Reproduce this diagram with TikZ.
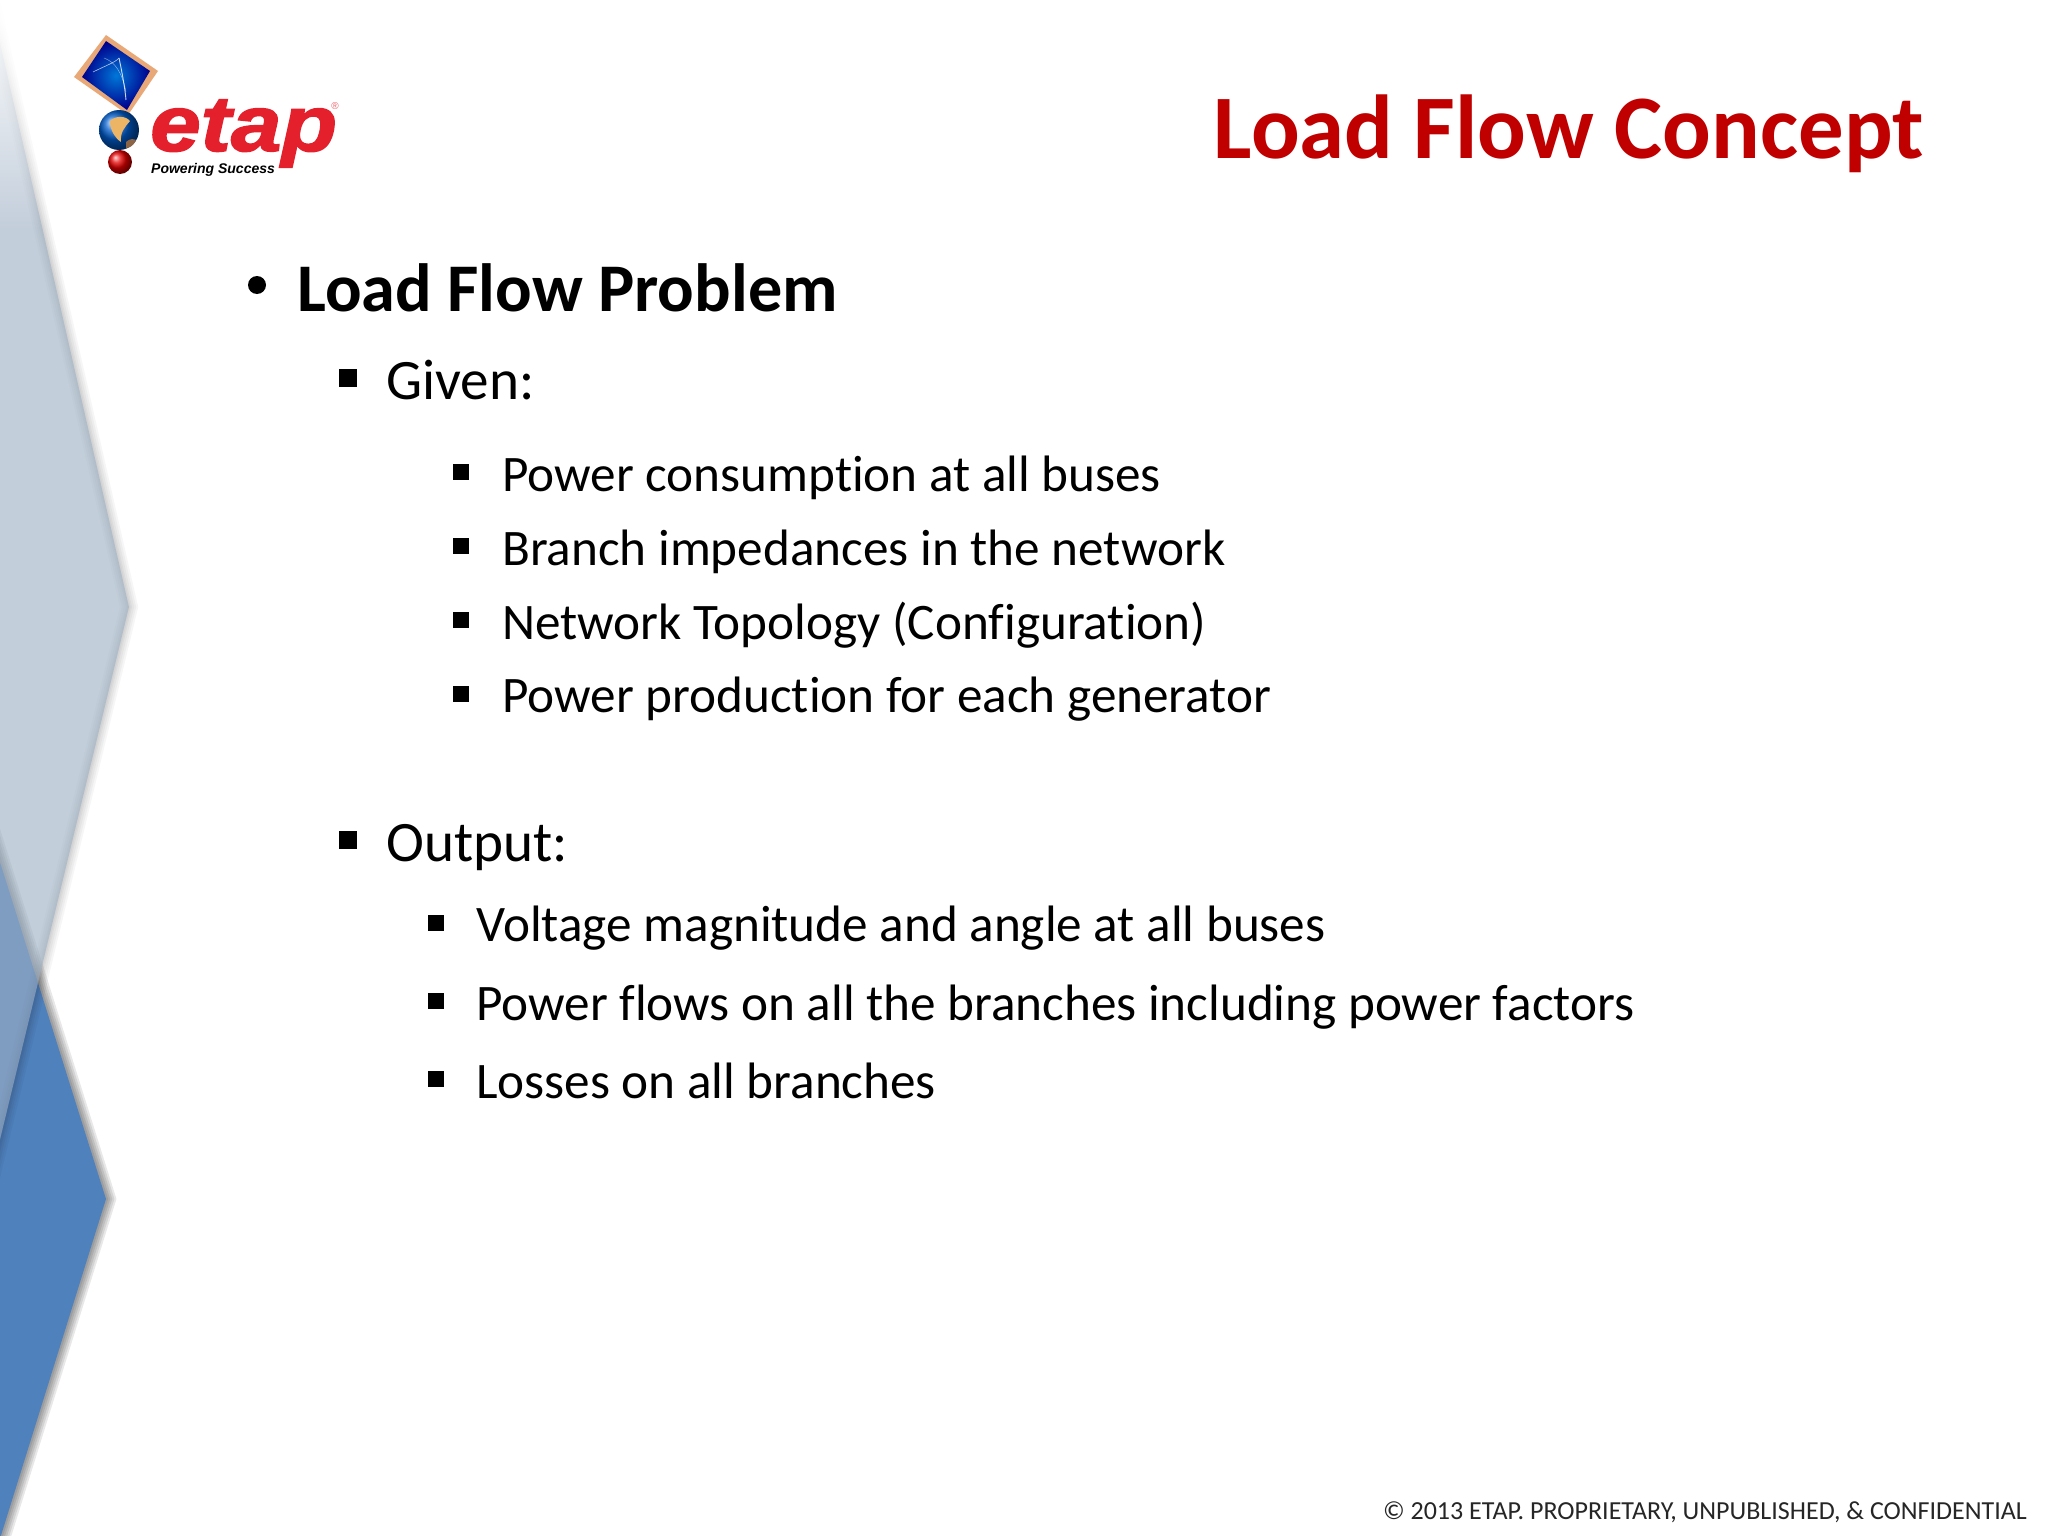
\documentclass[tikz,border=0pt]{standalone}
\usepackage{fontspec}
\setmainfont{Carlito}[Ligatures=NoCommon]
\newfontfamily\logofont{Liberation Sans}
\newfontfamily\brandfont{Liberation Sans}[BoldItalicFeatures={FakeBold=1.8}]
\usetikzlibrary{fadings}
\definecolor{slideRed}{HTML}{C00000}
\definecolor{paneLight}{HTML}{9EB0C5}
\definecolor{paneBlue}{HTML}{4F81BD}
\definecolor{logoRed}{HTML}{E4202C}
\definecolor{frameTan}{HTML}{E9A877}
\tikzset{
  txt/.style={inner sep=0pt,anchor=base west,text=black},
  mainitem/.style={txt,font=\fontsize{68.2}{80}\selectfont\bfseries},
  subitem/.style={txt,font=\fontsize{57.2}{66}\selectfont},
  leafitem/.style={txt,font=\fontsize{51.2}{60}\selectfont},
  squarebig/.style={fill=black,inner sep=0pt,minimum size=18pt},
  squaresmall/.style={fill=black,inner sep=0pt,minimum size=16pt},
  roundbullet/.style={fill=black,circle,inner sep=0pt,minimum size=18pt},
  softedge/.style={black,line join=miter}
}
\begin{document}
\begin{tikzpicture}[x=1pt,y=-1pt]
\useasboundingbox (0,0) rectangle (2048,1536);
\fill[white] (0,0) rectangle (2048,1536);
\coordinate (lightTop) at (-50,-176);
\coordinate (lightTip) at (129,607);
\coordinate (lightEnd) at (-50,1346);
\coordinate (blueTop) at (-50,703);
\coordinate (blueTip) at (106,1199);
\coordinate (blueEnd) at (-50,1699);
\begin{scope}
\clip (0,0) rectangle (2048,1536);
\begin{scope}[xshift=4pt,yshift=-1pt]
\foreach \w in {20,16,12,8,4}
  \draw[softedge,opacity=.09,line width=\w pt] (blueTop) -- (blueTip) -- (blueEnd);
\end{scope}
\fill[paneBlue] (blueTop) -- (blueTip) -- (blueEnd) -- cycle;
\begin{scope}[xshift=1pt]
\foreach \w in {18,14,10,6,3}
  \draw[softedge,opacity=.035,line width=\w pt] (lightTop) -- (lightTip) -- (lightEnd);
\end{scope}
\fill[paneLight,opacity=.61] (lightTop) -- (lightTip) -- (lightEnd) -- cycle;
\fill[white,path fading=south] (0,0) rectangle (70,230);
\end{scope}
\fill[frameTan] (106,35) -- (158,71) -- (128,115) -- (74,77) -- cycle;
\shade[inner color=blue!45!cyan!85!black,outer color=blue!55!black] (106,41) -- (150,71) -- (127,110) -- (82,77) -- cycle;
\draw[white,opacity=.7,line width=.6pt] (93,72) .. controls (105,66) and (116,62) .. (119,58);
\draw[white,opacity=.8,line width=.9pt] (119,58) .. controls (122,72) and (125,88) .. (126,100);
\draw[white,opacity=.5,line width=.5pt] (104,58) .. controls (115,62) and (122,72) .. (126,92);
\shade[ball color=blue!55!cyan!80!black] (119,130) circle (20);
\fill[frameTan!85!yellow] (110,121) .. controls (116,115) and (126,116) .. (130,121) .. controls (125,127) and (120,132) .. (121,142) .. controls (115,138) and (110,130) .. cycle;
\fill[frameTan!60!black] (126,142) .. controls (130,138) and (134,139) .. (136,140) .. controls (134,145) and (130,148) .. (126,148) -- cycle;
\shade[ball color=red!90!black] (120,162) circle (12);
\node[inner sep=0pt,anchor=base west,text=logoRed,xscale=1.15,font=\fontsize{79}{79}\brandfont\bfseries\itshape] (logoName) at (150,151) {etap};
\node[inner sep=0pt,anchor=base west,text=black,font=\fontsize{14}{16}\logofont\bfseries\itshape] (logoTag) at (151,173) {Powering Success};
\node[inner sep=0pt,text=logoRed!70,font=\fontsize{10}{10}\logofont] (logoMark) at (335,106) {®};
\node[inner sep=0pt,anchor=base east,text=slideRed,font=\fontsize{90.8}{100}\selectfont\bfseries] (title) at (1924,158) {Load Flow Concept};
\node[roundbullet] (b0) at (257,285) {};
\node[mainitem] (problem) at (297,311) {Load Flow Problem};
\node[squarebig] (b1) at (348,378) {};
\node[subitem] (given) at (386,399) {Given:};
\node[squaresmall] (b2) at (461,472) {};
\node[leafitem] (g1) at (502,491) {Power consumption at all buses};
\node[squaresmall] (b3) at (461,546) {};
\node[leafitem] (g2) at (502,565) {Branch impedances in the network};
\node[squaresmall] (b4) at (461,620) {};
\node[leafitem] (g3) at (502,639) {Network Topology (Configuration)};
\node[squaresmall] (b5) at (461,694) {};
\node[leafitem] (g4) at (502,712) {Power production for each generator};
\node[squarebig] (b6) at (348,840) {};
\node[subitem] (output) at (386,861) {Output:};
\node[squaresmall] (b7) at (436,923) {};
\node[leafitem] (o1) at (476,941) {Voltage magnitude and angle at all buses};
\node[squaresmall] (b8) at (436,1001) {};
\node[leafitem] (o2) at (476,1020) {Power flows on all the branches including power factors};
\node[squaresmall] (b9) at (436,1079) {};
\node[leafitem] (o3) at (476,1098) {Losses on all branches};
\node[inner sep=0pt,anchor=base east,text=black!85,font=\fontsize{26}{30}\selectfont] (footer) at (2027,1519) {© 2013 ETAP. PROPRIETARY, UNPUBLISHED, \& CONFIDENTIAL};
\end{tikzpicture}
\end{document}
